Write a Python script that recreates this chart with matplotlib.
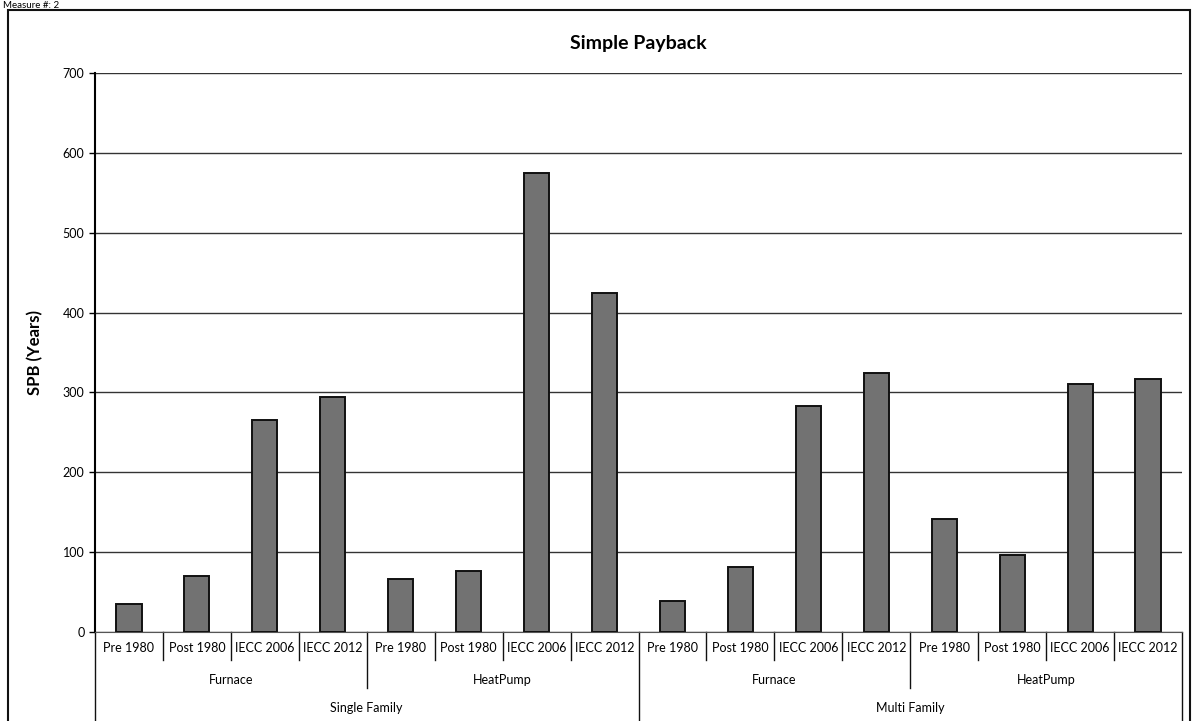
import matplotlib.pyplot as plt
from matplotlib.patches import Rectangle
from matplotlib.transforms import blended_transform_factory

# Data
vintages = ['Pre 1980', 'Post 1980', 'IECC 2006', 'IECC 2012']
systems = ['Furnace', 'HeatPump']
families = ['Single Family', 'Multi Family']
sf_furnace = [35, 70, 266, 294]
sf_heatpump = [66, 76, 575, 425]
mf_furnace = [39, 82, 283, 324]
mf_heatpump = [141, 96, 310, 317]

values = sf_furnace + sf_heatpump + mf_furnace + mf_heatpump
n = len(values)
x = list(range(n))

plt.rcParams['font.family'] = ['Lato', 'DejaVu Sans']

fig = plt.figure(figsize=(11.92, 7.21), dpi=100)
ax = fig.add_axes([95 / 1192, 1 - 632 / 721, 1087 / 1192, 559 / 721])

# Bars
ax.bar(x, values, width=0.37, color='#727272', edgecolor='#111111', linewidth=1.4, zorder=3)

ax.set_xlim(-0.5, n - 0.5)
ax.set_ylim(0, 700)
ax.set_yticks(range(0, 701, 100))
ax.yaxis.grid(True, color='#333333', linewidth=1.0, zorder=0)
ax.tick_params(axis='y', labelsize=9, length=4, width=1)
ax.set_xticks([])
for s in ['top', 'right']:
    ax.spines[s].set_visible(False)
ax.spines['left'].set_linewidth(1.5)
ax.spines['bottom'].set_color('#555555')

ax.set_title('Simple Payback', fontsize=14, fontweight='bold', pad=17)
ax.set_ylabel('SPB (Years)', fontsize=12, fontweight='bold', labelpad=14)

# Multi-level category axis
tr = blended_transform_factory(ax.transData, ax.transAxes)
row1, row2, row3 = -0.029, -0.086, -0.136
k = 0
for fam in families:
    for sysname in systems:
        for v in vintages:
            ax.text(k, row1, v, transform=tr, ha='center', va='center', fontsize=9)
            k += 1
for g in range(len(families) * len(systems)):
    ax.text(g * 4 + 1.5, row2, systems[g % 2], transform=tr, ha='center', va='center', fontsize=9)
for f, fam in enumerate(families):
    ax.text(f * 8 + 3.5, row3, fam, transform=tr, ha='center', va='center', fontsize=9)

bottom_end = -(721 - 632) / 559 - 0.01
for b in range(n + 1):
    xb = b - 0.5
    if b % 8 == 0:
        y1 = bottom_end
    elif b % 4 == 0:
        y1 = -0.1
    else:
        y1 = -0.05
    ax.plot([xb, xb], [0, y1], transform=tr, color='#111111', linewidth=1.0, clip_on=False)

# Outer chart border (cut by the page edge)
fig.patches.append(Rectangle((8 / 1192, -0.05), 1182 / 1192, 1.05 - 10 / 721,
                             transform=fig.transFigure, fill=False,
                             edgecolor='#111111', linewidth=1.5))

# Heading at the very top of the page
fig.text(3 / 1192, 1 - 1 / 721, 'Measure #: 2', fontsize=7, ha='left', va='top')

fig.savefig('out.png', dpi=100)
